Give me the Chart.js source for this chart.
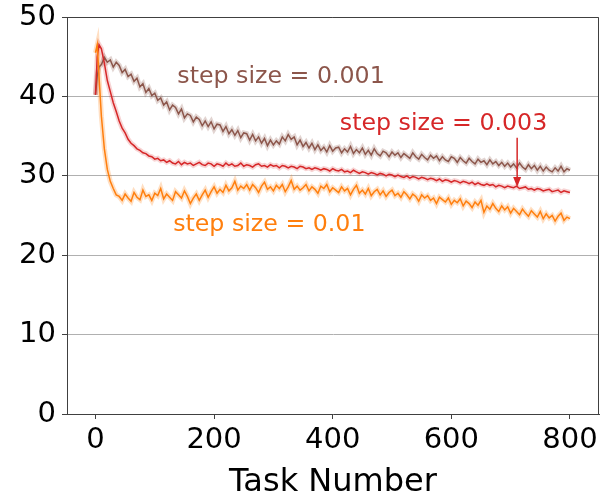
<!DOCTYPE html>
<html>
<head>
<meta charset="utf-8">
<script src="https://cdn.jsdelivr.net/npm/chart.js@4.4.1/dist/chart.umd.min.js"></script>
<style>
  html, body { margin: 0; padding: 0; background: #fff; }
  #chart { display: block; }
</style>
</head>
<body>
<canvas id="chart" width="602" height="499"></canvas>
<script>
// task index (x axis)
var tasks = [0, 3, 6,
    10, 15, 20, 25, 30, 35, 40, 45, 50, 55,
    60, 65, 70, 75, 80, 85, 90, 95, 100, 105,
    110, 115, 120, 125, 130, 135, 140, 145, 150, 155,
    160, 165, 170, 175, 180, 185, 190, 195, 200, 205,
    210, 215, 220, 225, 230, 235, 240, 245, 250, 255,
    260, 265, 270, 275, 280, 285, 290, 295, 300, 305,
    310, 315, 320, 325, 330, 335, 340, 345, 350, 355,
    360, 365, 370, 375, 380, 385, 390, 395, 400, 405,
    410, 415, 420, 425, 430, 435, 440, 445, 450, 455,
    460, 465, 470, 475, 480, 485, 490, 495, 500, 505,
    510, 515, 520, 525, 530, 535, 540, 545, 550, 555,
    560, 565, 570, 575, 580, 585, 590, 595, 600, 605,
    610, 615, 620, 625, 630, 635, 640, 645, 650, 655,
    660, 665, 670, 675, 680, 685, 690, 695, 700, 705,
    710, 715, 720, 725, 730, 735, 740, 745, 750, 755,
    760, 765, 770, 775, 780, 785, 790, 795, 800];

// step size = 0.001
var step001 = [40.2, 42.6, 43.7,
    44.0, 44.9, 44.3, 44.6, 43.7, 44.3, 43.9, 43.0, 43.4, 42.5,
    42.8, 41.9, 42.3, 41.2, 41.6, 40.5, 41.0, 40.1, 40.4, 39.5,
    39.8, 38.9, 39.3, 38.3, 38.9, 38.6, 37.8, 38.4, 37.3, 37.8,
    37.6, 36.8, 37.4, 37.1, 36.3, 36.9, 36.2, 36.8, 35.9, 36.5,
    36.4, 35.6, 36.2, 35.3, 35.8, 35.1, 35.7, 34.8, 35.4, 35.3,
    34.5, 35.2, 34.4, 34.9, 34.1, 34.7, 33.8, 34.5, 33.9, 34.4,
    34.0, 34.9, 34.4, 35.2, 34.6, 34.9, 33.9, 34.5, 33.7, 34.2,
    33.5, 34.1, 33.3, 33.9, 33.2, 33.6, 33.0, 33.8, 33.1, 33.5,
    33.6, 32.9, 33.4, 33.0, 33.7, 32.8, 33.3, 32.9, 33.5, 32.7,
    33.2, 32.6, 33.4, 32.8, 32.5, 33.1, 32.9, 32.4, 33.0, 32.6,
    32.9, 32.3, 32.8, 32.5, 32.2, 32.9, 32.4, 32.1, 32.7, 32.3,
    32.0, 32.6, 32.2, 32.5, 31.9, 32.4, 32.0, 31.8, 32.4, 32.2,
    31.7, 32.3, 31.9, 31.6, 32.2, 31.8, 31.5, 32.1, 31.7, 31.9,
    31.4, 32.0, 31.5, 31.8, 31.3, 31.7, 31.2, 31.6, 31.1, 31.5,
    31.0, 31.6, 31.1, 30.8, 31.4, 30.9, 31.3, 30.7, 31.2, 30.6,
    31.1, 30.7, 30.5, 31.0, 30.6, 31.2, 30.5, 30.9, 30.7];

// step size = 0.003
var step003 = [40.2, 45.0, 46.5,
    46.0, 44.2, 42.0, 40.6, 39.2, 38.1, 36.9, 36.0, 35.4, 34.6,
    34.1, 33.8, 33.4, 33.2, 32.9, 32.8, 32.5, 32.4, 32.1, 32.2,
    31.9, 32.0, 31.7, 31.9, 31.6, 31.5, 31.8, 31.4, 31.7, 31.5,
    31.6, 31.3, 31.5, 31.7, 31.4, 31.3, 31.6, 31.5, 31.2, 31.5,
    31.4, 31.2, 31.6, 31.3, 31.5, 31.2, 31.3, 31.6, 31.2, 31.4,
    31.3, 31.1, 31.4, 31.5, 31.2, 31.3, 31.1, 31.4, 31.2, 31.3,
    31.0, 31.3, 31.2, 31.0, 31.2, 31.1, 30.9, 31.2, 31.1, 30.9,
    31.0, 30.8, 31.0, 30.9, 30.7, 30.9, 30.8, 30.6, 30.9, 30.7,
    30.6, 30.8, 30.5, 30.6, 30.4, 30.7, 30.5, 30.3, 30.5, 30.4,
    30.2, 30.4, 30.3, 30.1, 30.3, 30.2, 30.0, 30.2, 30.1, 29.9,
    30.1, 29.9, 29.8, 30.0, 29.7, 29.9, 29.8, 29.6, 29.8, 29.7,
    29.5, 29.7, 29.6, 29.4, 29.6, 29.3, 29.5, 29.4, 29.2, 29.4,
    29.3, 29.1, 29.3, 29.2, 29.0, 29.2, 28.9, 29.1, 28.9, 28.8,
    29.0, 28.8, 28.9, 28.6, 28.8, 28.7, 28.5, 28.7, 28.6, 28.5,
    28.7, 28.4, 28.5, 28.6, 28.3, 28.4, 28.2, 28.4, 28.3, 28.1,
    28.2, 28.3, 28.0, 28.1, 28.2, 27.9, 28.1, 28.0, 27.9];

// step size = 0.01
var step01 = [45.5, 46.5, 42.5,
    37.5, 33.4, 30.8, 29.3, 28.4, 27.6, 27.4, 26.9, 27.7, 27.2,
    26.8, 27.9, 27.3, 27.0, 28.2, 27.4, 27.6, 26.9, 27.8, 27.5,
    28.4, 27.1, 27.7, 27.3, 26.9, 28.0, 27.6, 27.2, 28.1, 27.4,
    26.5, 27.2, 27.7, 26.9, 27.6, 28.2, 27.3, 28.0, 28.6, 27.8,
    28.3, 27.9, 28.8, 28.1, 28.5, 29.3, 28.2, 28.7, 28.4, 28.9,
    28.2, 28.9, 28.5, 27.9, 28.7, 29.2, 28.3, 28.6, 28.1, 28.8,
    28.4, 28.9, 28.0, 28.6, 29.4, 28.3, 28.7, 28.2, 28.5, 28.9,
    28.1, 28.6, 28.3, 27.8, 28.7, 28.4, 28.9, 28.0, 28.5, 28.2,
    27.9, 28.6, 28.1, 28.4, 27.6, 28.3, 28.8, 27.8, 28.2, 27.7,
    28.4, 27.5, 28.0, 28.3, 27.6, 28.1, 27.4, 27.9, 28.2, 27.5,
    27.8, 27.3, 28.0, 27.6, 27.1, 27.7, 27.4, 26.8, 27.6, 27.2,
    27.5, 26.9, 27.2, 26.5, 27.3, 27.0, 26.7, 27.2, 26.4, 26.9,
    26.6, 27.1, 26.2, 26.8, 26.5, 26.0, 26.7, 26.3, 26.9, 25.4,
    26.2, 25.8, 26.5, 25.9, 25.5, 26.2, 25.7, 26.1, 25.3, 25.9,
    25.5, 25.1, 25.8, 25.3, 24.9, 25.6, 25.2, 24.8, 25.5, 24.6,
    25.2, 24.7, 25.0, 24.3, 24.9, 25.3, 24.4, 24.8, 24.6];

var xTicks = [0, 200, 400, 600, 800];
var yTicks = [0, 10, 20, 30, 40, 50];

var colBrown = '#8c564b';
var colRed = '#d62728';
var colOrange = '#ff7f0e';

function pts(ys) {
    return tasks.map(function(t, i) { return { x: t, y: ys[i] }; });
}

function lineSet(label, ys, color, order) {
    return {
        label: label,
        data: pts(ys),
        borderColor: color,
        borderWidth: 1.5,
        pointRadius: 0,
        tension: 0,
        fill: false,
        order: order
    };
}

// wide pale copy of each curve under it, stands in for the shaded band
function bandSet(ys, color) {
    return {
        data: pts(ys),
        borderColor: color,
        borderWidth: 5,
        pointRadius: 0,
        tension: 0,
        fill: false,
        order: 5
    };
}

var FONT = "'DejaVu Sans', Verdana, sans-serif";

// top and right border + text labels + arrow
var decor = {
    id: 'decor',
    afterDatasetsDraw: function(chart) {
        var ctx = chart.ctx;
        var a = chart.chartArea;
        var xs = chart.scales.x, ys = chart.scales.y;
        ctx.save();
        ctx.strokeStyle = '#404040';
        ctx.lineWidth = 1;
        ctx.beginPath();
        ctx.moveTo(a.left, a.top + 0.5);
        ctx.lineTo(a.right - 0.5, a.top + 0.5);
        ctx.lineTo(a.right - 0.5, a.bottom);
        ctx.stroke();

        ctx.font = '23.7px ' + FONT;
        ctx.textBaseline = 'middle';
        ctx.textAlign = 'left';
        ctx.fillStyle = colBrown;
        ctx.fillText('step size = 0.001', xs.getPixelForValue(138), ys.getPixelForValue(42.4));
        ctx.fillStyle = colOrange;
        ctx.fillText('step size = 0.01', xs.getPixelForValue(131), ys.getPixelForValue(23.8));
        ctx.fillStyle = colRed;
        ctx.fillText('step size = 0.003', xs.getPixelForValue(412), ys.getPixelForValue(36.6));

        // arrow toward the red curve
        var ax = xs.getPixelForValue(711);
        var y0 = ys.getPixelForValue(34.8);
        var y1 = ys.getPixelForValue(28.6);
        ctx.strokeStyle = colRed;
        ctx.lineWidth = 1.5;
        ctx.beginPath();
        ctx.moveTo(ax, y0);
        ctx.lineTo(ax, y1 - 8);
        ctx.stroke();
        ctx.fillStyle = colRed;
        ctx.beginPath();
        ctx.moveTo(ax, y1);
        ctx.lineTo(ax - 4, y1 - 10);
        ctx.lineTo(ax + 4, y1 - 10);
        ctx.closePath();
        ctx.fill();
        ctx.restore();
    }
};

new Chart(document.getElementById('chart').getContext('2d'), {
    type: 'line',
    data: {
        datasets: [
            lineSet('step size = 0.01', step01, colOrange, 0),
            lineSet('step size = 0.003', step003, colRed, 1),
            lineSet('step size = 0.001', step001, colBrown, 2),
            bandSet(step01, 'rgba(255,127,14,0.25)'),
            bandSet(step003, 'rgba(214,39,40,0.2)'),
            bandSet(step001, 'rgba(140,86,75,0.25)')
        ]
    },
    options: {
        responsive: false,
        animation: false,
        devicePixelRatio: 1,
        layout: { padding: { left: 0, right: 3, top: 17, bottom: 0 } },
        plugins: {
            legend: { display: false },
            tooltip: { enabled: false }
        },
        scales: {
            x: {
                type: 'linear',
                min: -48,
                max: 849,
                afterBuildTicks: function(scale) {
                    scale.ticks = xTicks.map(function(v) { return { value: v }; });
                },
                afterFit: function(scale) {
                    scale.height = 85;
                    scale.paddingLeft = 0;
                    scale.paddingRight = 0;
                },
                grid: {
                    drawOnChartArea: false,
                    drawTicks: true,
                    tickLength: 5,
                    tickColor: '#404040'
                },
                border: { color: '#404040', width: 1 },
                ticks: {
                    color: '#000',
                    font: { family: FONT, size: 29 },
                    padding: 4,
                    maxRotation: 0
                },
                title: {
                    display: true,
                    text: 'Task Number',
                    color: '#000',
                    font: { family: FONT, size: 32, lineHeight: 1 },
                    padding: { top: 0, bottom: 0 }
                }
            },
            y: {
                min: 0,
                max: 50,
                afterBuildTicks: function(scale) {
                    scale.ticks = yTicks.map(function(v) { return { value: v }; });
                },
                afterFit: function(scale) {
                    scale.width = 67;
                    scale.paddingTop = 0;
                    scale.paddingBottom = 0;
                },
                grid: {
                    color: '#b0b0b0',
                    lineWidth: 1,
                    drawTicks: true,
                    tickLength: 5,
                    tickColor: '#404040'
                },
                border: { color: '#404040', width: 1 },
                ticks: {
                    color: '#000',
                    font: { family: FONT, size: 29 },
                    padding: 6
                }
            }
        }
    },
    plugins: [decor]
});
</script>
</body>
</html>
